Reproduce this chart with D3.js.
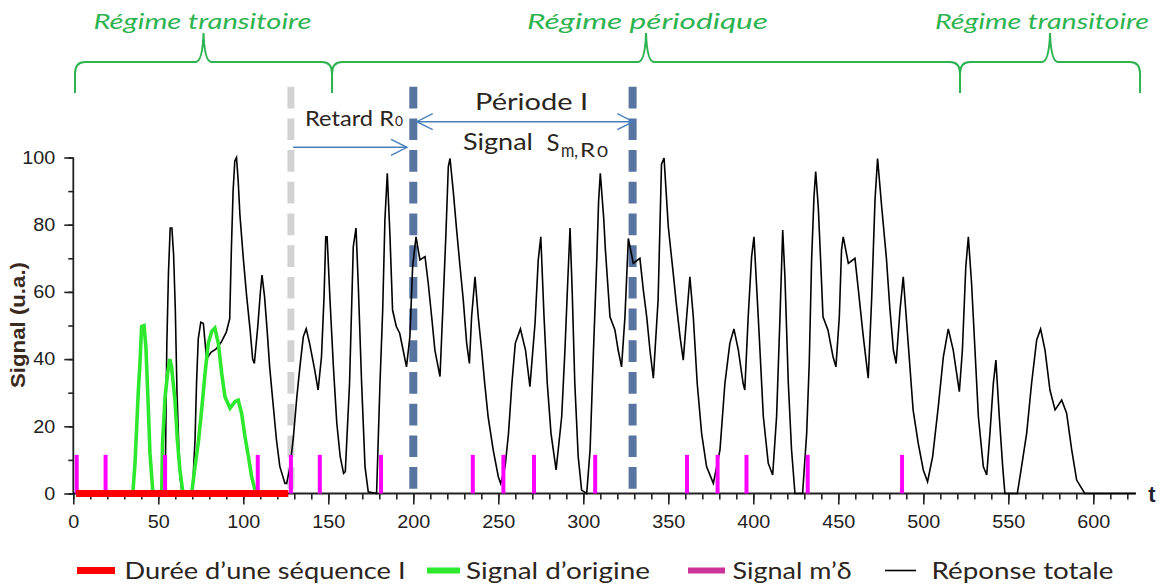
<!DOCTYPE html>
<html><head><meta charset="utf-8">
<script src="https://cdn.jsdelivr.net/npm/d3@7"></script>
<style>body{margin:0;background:#fff}svg{display:block}</style>
</head><body><svg id="c" width="1163" height="587"></svg>
<script>
// ---------- DATA ----------
const reponseTotale = [[0,0],[54,0],[55,44],[56,66],[57,79],[58,79],[59,71],[60,55],[61,30],[62,15],[63,4],[64,0],[70,0],[71.6,16],[72.5,33],[73.5,46],[75,51],[76.5,50.6],[78.4,40],[81,42],[84,43],[87,45],[90,48],[92,52],[93,73],[94,90],[95,99],[96,100],[97,93],[98,83],[100,70],[102,58.6],[104,48.7],[105.5,40],[106.5,38.7],[108.5,49.6],[110,59.6],[111,65],[112.5,58.6],[114,48.7],[115.5,37.7],[117.5,26.8],[119.5,16],[121.5,8],[124.5,3],[125.5,3],[127.5,8],[129.5,17],[131.5,28.8],[133.3,37.7],[135.3,46.7],[137,49],[139,44.7],[142,36.8],[144,30.8],[146,40.7],[147.5,58.6],[148.5,76.4],[149.3,76.4],[151,57.6],[153,37.7],[155,20.9],[157,11],[159,6],[160,6.5],[162.5,32.8],[164.7,73.5],[166.3,79],[167.6,62.5],[169.6,32.8],[171.6,8],[173.5,0.5],[178.4,0],[180.4,32.8],[182,54.6],[183.3,81.4],[184.7,95.3],[186.3,76.4],[187.8,54.6],[190,49.7],[192,47.7],[194,42.7],[196,37.7],[198,46.7],[199.6,67.5],[201.6,76.4],[203.9,69.5],[206.9,70.5],[208.8,62.5],[210.8,52.6],[212.7,42.7],[215.7,34.8],[217.6,57.6],[219.2,77.4],[220.6,97.3],[221.6,99.7],[223.5,90],[225.5,78.4],[227.5,67.5],[229.4,57.6],[231.4,44.7],[233,38.7],[234.3,52.6],[236.3,64.5],[238.2,52.6],[240.2,42.7],[242,32.8],[244,22.9],[247,13],[250,5],[251.4,3],[254,8],[256,17.9],[258,32.8],[260,44.7],[263,49],[266,42.7],[268.6,31.8],[271.6,50.6],[273.5,69.5],[275,76.4],[276.9,52.6],[278.8,32.8],[281,17.9],[284,7],[287.3,22.9],[289.2,42.7],[290.8,62.5],[292.2,79],[293.5,59.6],[295,32.8],[297,11],[299,1],[302,0],[304,13],[306,42.7],[308,70.5],[309,87],[310,95.3],[312,82],[313,72.5],[315.7,52.6],[318.6,48.7],[320.5,42.7],[322.5,37.7],[324.5,52.6],[326.5,75.9],[329.4,68.5],[333.3,70],[335.3,60.6],[337.3,52.6],[339.2,42.7],[341.2,34.3],[344,57.6],[346,98],[347.5,99.8],[350,79.4],[352.9,65.5],[354.9,55.6],[356.9,46.7],[358.8,39.7],[360.8,52.6],[362.7,64.5],[364.7,52.6],[367,32.8],[369.6,17.9],[372.5,8],[376.5,3],[380.4,13],[383.3,32.8],[386.2,44.7],[388.6,49],[391.2,42.7],[394,32.8],[395,30.8],[397,52.6],[399,70.5],[400.4,76.4],[402.9,52.6],[405.9,22.9],[408.8,9],[411.4,5.5],[413.7,22.9],[415.7,52.6],[417.3,78.4],[418.6,64.5],[420.6,32.8],[422.5,13],[424.5,0],[429,0],[431.4,17.9],[432.9,38.7],[434.3,69.5],[435.7,88.4],[436.7,95.8],[438.2,85.4],[439.6,69.5],[441,52.6],[443.9,48.7],[446.9,40.7],[448.6,37.7],[450.6,52.6],[451.9,72.5],[452.9,76.4],[455.9,68.5],[459.8,70],[461.8,60.6],[464.7,46.7],[467.6,34.3],[469.6,57.6],[471.6,87.4],[473.1,99.7],[475.5,85.4],[478.3,70],[480.4,54.6],[482.4,42.7],[484,38.7],[486.3,54.6],[488.2,64.5],[491.4,42.7],[494,24.9],[497,15],[500,7],[502.5,3.5],[505.5,11],[508.8,25.8],[511.8,40.7],[514.7,49],[517.6,42.7],[521.2,30.3],[523,42.7],[525,67.5],[526.5,76.4],[528.4,62.5],[530.4,42.7],[532.4,22.9],[535.3,8],[537.3,5.5],[539.2,17.9],[541.2,32.8],[542.7,39.7],[544.7,22.9],[546.7,8],[548,0],[555.3,0],[557.8,8],[560.8,17.9],[563.7,32.8],[566.7,45.7],[569,49],[571.6,42.7],[574.5,30.8],[577.5,24.9],[581.4,27.8],[584.3,23.9],[587.3,13],[590.2,4],[595,0],[625,0]];
const signalOrigine = [[35,0],[36.3,9],[37.3,20],[38.2,30],[39.2,38.7],[40.2,49.7],[41.6,50],[42.7,43.7],[44.1,25.8],[45.1,12],[46.7,1],[47,0],[52,0],[52.5,15],[54,28.8],[55.5,35.8],[56.8,40],[57.8,37.7],[59.8,27.8],[61.2,16],[62.7,7],[64.3,1],[65,0],[69.6,0],[71.6,8],[73.5,15],[75.5,24.9],[77.5,35.8],[79.4,44.7],[81.4,48.2],[83.3,49.2],[85.3,44.7],[87.3,35.8],[89.2,28.8],[92.2,25.4],[95.1,27.3],[97,27.8],[99,23.9],[101,16.9],[103,11],[104.9,5],[106.9,1],[107.5,0]];
const deltaT = [2,19,54,108.5,128,145,181,235,253,271,307,361,379,396,432,487.5];
const deltaHeight = 11.5;
const sequence = [1.6, 126.5];
const retardLine = 128;
const periodeLines = [200, 329];
const xMajor = [0,50,100,150,200,250,300,350,400,450,500,550,600];
const xMinor = d3.range(0, 621, 10);
const yMajor = [0,20,40,60,80,100];
const yMinor = d3.range(0, 101, 10);
const braces = [[1,152.2],[152.2,521.6],[521.6,627.5]];
const braceLabels = ["Régime transitoire","Régime périodique","Régime transitoire"];
const legendLabels = ["Durée d’une séquence I","Signal d’origine","Signal m’δ","Réponse totale"];

// ---------- SETUP ----------
const svg = d3.select("#c");
const x = d3.scaleLinear().domain([0, 625]).range([73.3, 1135.8]);
const y = d3.scaleLinear().domain([0, 100]).range([493.5, 157.5]);
const TXT = "#2b2520", GREEN_TXT = "#2db350", ARROW = "#4a7ebb";
const ANNOT_FONT = "Lato, 'Open Sans', sans-serif";
const AX_FONT = "'Liberation Sans', Arial, sans-serif";

function txt(px, py, s, o) {
  const t = svg.append("text").attr("x", px).attr("y", py).text(s)
    .attr("font-family", o.family || ANNOT_FONT).attr("font-size", o.size)
    .attr("fill", o.fill || TXT).attr("text-anchor", o.anchor || "start");
  if (o.weight) t.attr("font-weight", o.weight);
  if (o.style) t.attr("font-style", o.style);
  if (o.width) t.attr("textLength", o.width).attr("lengthAdjust", "spacingAndGlyphs");
  if (o.rotate) t.attr("transform", `rotate(${o.rotate},${px},${py})`);
  return t;
}
function stretch(sel, k) {
  sel.each(function(){ const w = this.getComputedTextLength();
    d3.select(this).attr("textLength", w * k).attr("lengthAdjust", "spacingAndGlyphs"); });
}

// ---------- AXES ----------
const gx = svg.append("g").attr("transform", `translate(0,${y(0)})`);
gx.append("g").call(d3.axisBottom(x).tickValues(xMinor).tickSize(6).tickFormat("").tickSizeOuter(0))
  .call(g => g.select(".domain").remove());
const gxM = gx.append("g").call(d3.axisBottom(x).tickValues(xMajor).tickSize(11).tickPadding(11).tickSizeOuter(0))
  .call(g => g.select(".domain").remove());
gx.selectAll("line").attr("stroke", "#222").attr("stroke-width", 1.6);
gxM.selectAll("text").attr("font-family", AX_FONT).attr("font-size", 18).attr("fill", "#222");
stretch(gxM.selectAll("text"), 1.1);
gx.append("line").attr("x1", x(0)).attr("x2", x(625)).attr("stroke", "#222").attr("stroke-width", 1.8);

const gy = svg.append("g").attr("transform", `translate(${x(0)},0)`);
gy.append("g").call(d3.axisLeft(y).tickValues(yMinor).tickSize(5).tickFormat("").tickSizeOuter(0))
  .call(g => g.select(".domain").remove());
const gyM = gy.append("g").call(d3.axisLeft(y).tickValues(yMajor).tickSize(9).tickPadding(9).tickSizeOuter(0))
  .call(g => g.select(".domain").remove());
gy.selectAll("line").attr("stroke", "#222").attr("stroke-width", 1.6);
gyM.selectAll("text").attr("font-family", AX_FONT).attr("font-size", 18).attr("fill", "#222");
stretch(gyM.selectAll("text"), 1.1);
gy.append("line").attr("y1", y(0)).attr("y2", y(100)).attr("stroke", "#222").attr("stroke-width", 1.8);

txt(25, 325, "Signal (u.a.)", {size: 20, weight: "bold", family: AX_FONT, anchor: "middle", width: 126, rotate: -90, fill: "#3a2a1e"});
txt(1152, 502, "t", {size: 22, weight: "bold", family: AX_FONT, anchor: "middle", fill: "#1e2233"});

// ---------- DASHED VERTICAL LINES ----------
svg.append("line").attr("x1", x(retardLine)).attr("x2", x(retardLine)).attr("y1", 86.7).attr("y2", y(0))
  .attr("stroke", "#d2d2d2").attr("stroke-width", 7).attr("stroke-dasharray", "21.7 10");
svg.selectAll(".pl").data(periodeLines).join("line")
  .attr("x1", d => x(d)).attr("x2", d => x(d)).attr("y1", 86.7).attr("y2", y(0))
  .attr("stroke", "#5874a0").attr("stroke-width", 8).attr("stroke-dasharray", "21.7 10");

// ---------- SERIES ----------
const line = d3.line().x(d => x(d[0])).y(d => y(d[1]));
svg.append("path").datum(reponseTotale).attr("d", line).attr("fill", "none")
  .attr("stroke", "#000").attr("stroke-width", 1.6).attr("stroke-linejoin", "miter");
svg.append("path").datum(signalOrigine).attr("d", line).attr("fill", "none")
  .attr("stroke", "#2ee82e").attr("stroke-width", 3.6);
svg.selectAll(".dl").data(deltaT).join("line")
  .attr("x1", d => x(d)).attr("x2", d => x(d)).attr("y1", y(0)).attr("y2", y(deltaHeight))
  .attr("stroke", "#ff00ff").attr("stroke-width", 4);
svg.append("line").attr("x1", x(sequence[0])).attr("x2", x(sequence[1])).attr("y1", y(0)).attr("y2", y(0))
  .attr("stroke", "#ff0000").attr("stroke-width", 7);

// ---------- BRACES ----------
const BY0 = 93, BY1 = 62, BTIP = 33;
braces.forEach((b, i) => {
  const a = x(b[0]), e = x(b[1]), c = (a + e) / 2;
  const p = `M${a},${BY0} L${a},${BY1+12} Q${a},${BY1} ${a+10},${BY1} L${c-8},${BY1} Q${c-1},${BY1} ${c},${BTIP}`
    + ` Q${c+1},${BY1} ${c+8},${BY1} L${e-10},${BY1} Q${e},${BY1} ${e},${BY1+12} L${e},${BY0}`;
  svg.append("path").attr("d", p).attr("fill", "none").attr("stroke", GREEN_TXT).attr("stroke-width", 2);
});
txt(202.5, 29, braceLabels[0], {size: 22, style: "italic", fill: GREEN_TXT, anchor: "middle", width: 218});
txt(647.5, 28.5, braceLabels[1], {size: 22, style: "italic", fill: GREEN_TXT, anchor: "middle", width: 241});
txt(1042, 29, braceLabels[2], {size: 22, style: "italic", fill: GREEN_TXT, anchor: "middle", width: 214});

// ---------- ARROWS & ANNOTATIONS ----------
function arrow(t0, t1, py, both) {
  const a = x(t0), b = x(t1);
  svg.append("line").attr("x1", a).attr("x2", b).attr("y1", py).attr("y2", py).attr("stroke", ARROW).attr("stroke-width", 1.4);
  svg.append("path").attr("d", `M${b-16},${py-8} L${b},${py} L${b-16},${py+8}`).attr("fill", "none").attr("stroke", ARROW).attr("stroke-width", 1.4);
  if (both) svg.append("path").attr("d", `M${a+16},${py-8} L${a},${py} L${a+16},${py+8}`).attr("fill", "none").attr("stroke", ARROW).attr("stroke-width", 1.4);
}
arrow(129.3, 196.3, 147.3, false);
arrow(202, 329.4, 121.7, true);
txt(305, 126, "Retard R", {size: 21, width: 89});
txt(395, 126, "0", {size: 13, width: 8});
txt(475, 110, "Période I", {size: 24, width: 113});
txt(463, 150, "Signal", {size: 23, width: 70});
txt(546.5, 151, "S", {size: 24, width: 13});
txt(561, 157, "m,", {size: 20, width: 17});
txt(580, 157, "R", {size: 20, width: 15});
txt(597, 157, "0", {size: 15, width: 11});

// ---------- LEGEND ----------
const LY = 570.5, LB = 578.5;
const legendItems = [
  {x0: 77, x1: 115, color: "#ff0000", w: 7, tx: 124.5, tw: 281},
  {x0: 427, x1: 460, color: "#2ee82e", w: 6, tx: 466, tw: 184},
  {x0: 688, x1: 725, color: "#cc3399", w: 6, tx: 732.5, tw: 119},
  {x0: 885, x1: 916, color: "#000", w: 1.6, tx: 931.5, tw: 182}
];
legendItems.forEach((d, i) => {
  svg.append("line").attr("x1", d.x0).attr("x2", d.x1).attr("y1", LY).attr("y2", LY).attr("stroke", d.color).attr("stroke-width", d.w);
  txt(d.tx, LB, legendLabels[i], {size: 23, width: d.tw});
});
</script></body></html>
